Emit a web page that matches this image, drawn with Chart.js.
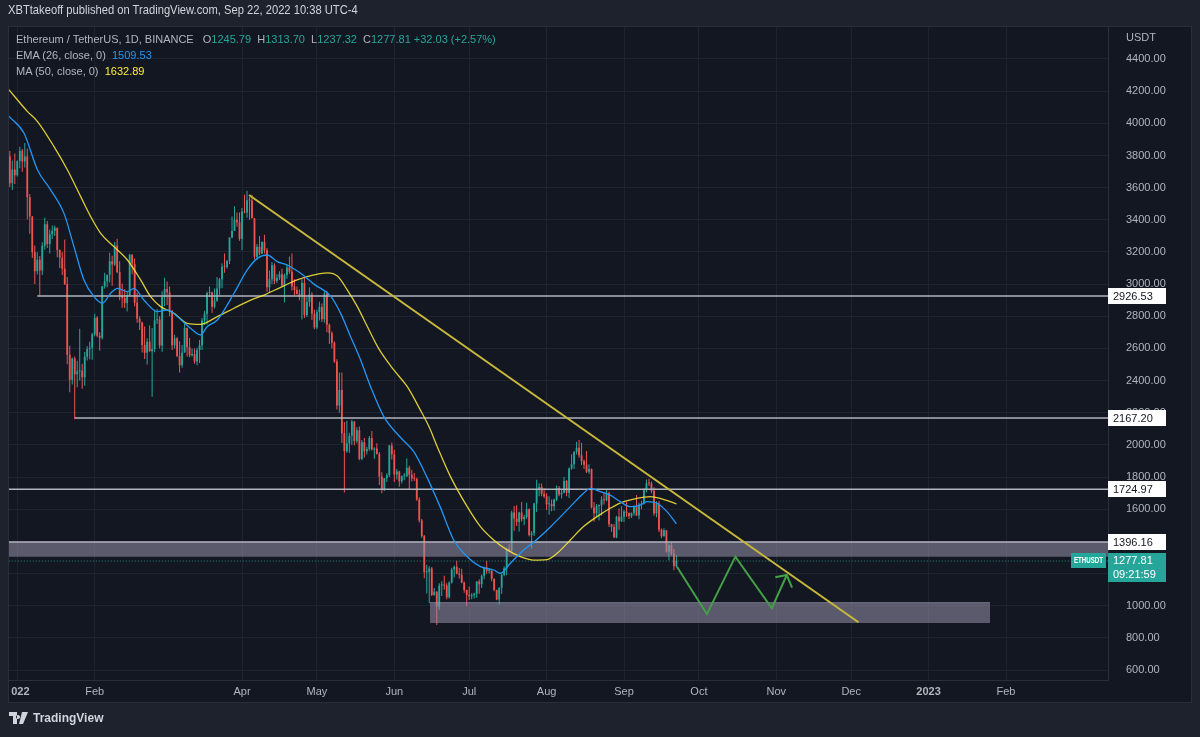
<!DOCTYPE html>
<html lang="en">
<head>
<meta charset="UTF-8">
<title>Ethereum / TetherUS, 1D, BINANCE</title>
<script src="https://cdn.jsdelivr.net/npm/chart.js"></script>
<style>
  body {
    margin: 0;
    width: 1200px;
    height: 737px;
    overflow: hidden;
    position: relative;
    background: #1e222d;
    font-family: "Liberation Sans", Arial, sans-serif;
  }
  #chart { position: absolute; left: 0; top: 0; }
  .hdr {
    position: absolute; left: 8px; top: 3px;
    font-size: 11.2px; color: #d1d4dc; transform: scaleY(1.12); transform-origin: left top;
  }
  .legend {
    position: absolute; left: 16px; top: 31px;
    font-size: 11px; line-height: 16px; color: #b2b5be;
  }
  .legend .up { color: #26a69a; }
  .legend .ema { color: #2196f3; }
  .legend .ma { color: #ffeb3b; }
  .legend .gap { display: inline-block; width: 6px; }
  .footer {
    position: absolute; left: 9px; top: 711px;
    font-size: 12px; color: #d1d4dc; font-weight: bold;
    display: flex; align-items: center; gap: 4px;
  }
</style>
</head>
<body>
<canvas id="chart" width="1200" height="737"></canvas>

<div class="hdr">XBTtakeoff published on TradingView.com, Sep 22, 2022 10:38 UTC-4</div>
<div class="legend">
  <div>Ethereum / TetherUS, 1D, BINANCE <span class="gap"></span>O<span class="up">1245.79</span>&nbsp; H<span class="up">1313.70</span>&nbsp; L<span class="up">1237.32</span>&nbsp; C<span class="up">1277.81</span> <span class="up">+32.03 (+2.57%)</span></div>
  <div>EMA (26, close, 0)&nbsp; <span class="ema">1509.53</span></div>
  <div>MA (50, close, 0)&nbsp; <span class="ma">1632.89</span></div>
</div>
<div class="footer">
  <svg width="20" height="12" viewBox="0 0 20 12"><path d="M0 0h8v12H4V4H0z M9 3a2 2 0 1 0 0.01 0z M13 0h6l-5 12h-4z" fill="#d1d4dc"/></svg>
  <span>TradingView</span>
</div>

<script>
// daily candles, first one is 2021-12-29 (day -3, day 0 = 2022-01-01)
const firstCandle = '2021-12-29';

const opens = [
  3795, 3628, 3713,
  3677, 3765, 3830, 3762, 3793, 3540, 3420, 3198, 3080, 3152, 3084, 3239, 3372, 3250, 3310, 3330, 3351, 3212, 3164, 3096, 3000, 2561, 2406, 2538, 2440, 2458, 2461, 2421, 2549, 2597, 2605,
  2688, 2791, 2679, 2666, 2986, 3018, 3058, 3142, 3122, 3240, 3076, 2927, 2914, 2882, 2930, 3183, 3126, 2884, 2785, 2762, 2622, 2573, 2642, 2582, 2597, 2776, 2780, 2619,
  2920, 2970, 2950, 2834, 2620, 2664, 2553, 2495, 2575, 2727, 2608, 2557, 2566, 2518, 2590, 2620, 2773, 2815, 2945, 2949, 2860, 2897, 2972, 3031, 3108, 3107, 3144, 3290, 3330, 3401, 3385,
  3282, 3452, 3445, 3522, 3520, 3410, 3170, 3233, 3190, 3262, 3210, 2981, 3030, 3117, 3020, 3040, 3062, 2991, 3057, 3103, 3077, 2985, 2964, 2938, 2923, 3008, 2808, 2889, 2935, 2816,
  2730, 2827, 2857, 2782, 2940, 2748, 2695, 2636, 2518, 2245, 2342, 2072, 1960, 2011, 2057, 2146, 2024, 2091, 1913, 2017, 1961, 1975, 2043, 1971, 1978, 1944, 1803, 1725, 1792, 1812, 1997,
  1941, 1816, 1834, 1774, 1805, 1805, 1858, 1815, 1791, 1789, 1661, 1530, 1434, 1208, 1210, 1232, 1066, 1087, 995, 1126, 1127, 1125, 1052, 1145, 1225, 1243, 1199, 1192, 1144, 1098,
  1068, 1059, 1067, 1074, 1151, 1134, 1187, 1238, 1216, 1217, 1168, 1098, 1038, 1112, 1192, 1233, 1354, 1339, 1580, 1543, 1521, 1579, 1537, 1552, 1600, 1439, 1450, 1635, 1724, 1738, 1696,
  1680, 1631, 1632, 1618, 1660, 1732, 1691, 1702, 1775, 1701, 1853, 1879, 1957, 1983, 1935, 1900, 1877, 1833, 1850, 1610, 1575, 1620, 1625, 1660, 1656, 1700, 1507, 1490, 1424, 1553, 1525,
  1553, 1586, 1577, 1556, 1577, 1616, 1561, 1630, 1635, 1718, 1763, 1760, 1715, 1574, 1636, 1472, 1432, 1470, 1335, 1378, 1324, 1245.79
];
const highs = [
  3828, 3768, 3813,
  3769, 3855, 3840, 3878, 3844, 3560, 3423, 3240, 3198, 3175, 3261, 3413, 3392, 3340, 3365, 3365, 3351, 3215, 3200, 3277, 3045, 2617, 2544, 2550, 2524, 2722, 2504, 2578, 2614, 2642, 2698,
  2816, 2800, 2700, 2989, 3071, 3058, 3195, 3176, 3263, 3282, 3142, 3004, 2969, 2953, 3189, 3185, 3160, 2946, 2800, 2766, 2737, 2663, 2742, 2727, 2841, 2845, 2800, 2955,
  3040, 3017, 2985, 2839, 2685, 2670, 2645, 2622, 2755, 2730, 2665, 2600, 2600, 2605, 2652, 2790, 2835, 2954, 2985, 2952, 2972, 3044, 3038, 3128, 3190, 3150, 3290, 3420, 3485, 3445, 3445,
  3473, 3555, 3580, 3541, 3555, 3410, 3250, 3300, 3267, 3307, 3225, 3085, 3138, 3130, 3062, 3080, 3095, 3066, 3125, 3172, 3191, 3030, 2985, 2966, 3030, 3040, 2920, 2980, 2949, 2840,
  2840, 2890, 2880, 2955, 2958, 2755, 2705, 2645, 2532, 2450, 2450, 2142, 2150, 2075, 2157, 2147, 2110, 2114, 2030, 2043, 1988, 2055, 2087, 1985, 2011, 1956, 1830, 1795, 1823, 2000, 2015,
  1970, 1850, 1840, 1810, 1825, 1915, 1870, 1845, 1825, 1796, 1675, 1540, 1440, 1255, 1245, 1240, 1110, 1090, 1140, 1152, 1186, 1140, 1150, 1236, 1250, 1280, 1235, 1230, 1150, 1100,
  1120, 1078, 1080, 1152, 1164, 1194, 1243, 1280, 1234, 1220, 1170, 1100, 1114, 1200, 1245, 1360, 1382, 1590, 1620, 1624, 1585, 1645, 1565, 1640, 1605, 1465, 1640, 1783, 1762, 1760, 1730,
  1700, 1680, 1660, 1665, 1748, 1745, 1725, 1800, 1782, 1860, 1942, 1960, 2020, 2030, 2013, 1910, 1962, 1880, 1853, 1645, 1633, 1630, 1680, 1707, 1719, 1710, 1510, 1508, 1560, 1605, 1618,
  1595, 1645, 1580, 1580, 1623, 1688, 1640, 1652, 1730, 1785, 1790, 1772, 1736, 1650, 1650, 1480, 1482, 1470, 1387, 1394, 1355, 1313.70
];
const lows = [
  3604, 3585, 3622,
  3670, 3720, 3697, 3725, 3402, 3313, 3162, 3000, 3060, 2928, 3056, 3215, 3224, 3190, 3281, 3300, 3167, 3101, 3056, 2995, 2501, 2327, 2375, 2159, 2359, 2400, 2350, 2368, 2525, 2532, 2530,
  2676, 2670, 2586, 2655, 2972, 2980, 3010, 2990, 3113, 3067, 2900, 2853, 2852, 2829, 2926, 3062, 2862, 2759, 2715, 2574, 2535, 2500, 2579, 2300, 2577, 2752, 2600, 2580,
  2862, 2870, 2800, 2590, 2600, 2545, 2450, 2480, 2575, 2550, 2545, 2550, 2505, 2495, 2510, 2590, 2745, 2750, 2920, 2820, 2848, 2890, 2930, 2975, 3070, 3095, 3125, 3286, 3330, 3356, 3270,
  3210, 3440, 3412, 3400, 3410, 3155, 3150, 3180, 3185, 3190, 2952, 2950, 3001, 3000, 3007, 3025, 2985, 2885, 3033, 3064, 2960, 2930, 2935, 2900, 2780, 2790, 2795, 2860, 2777, 2720,
  2720, 2774, 2765, 2760, 2700, 2628, 2600, 2510, 2220, 2200, 2012, 1704, 1952, 1952, 2000, 1998, 2010, 1905, 1905, 1922, 1940, 1963, 1966, 1914, 1940, 1750, 1700, 1713, 1770, 1800, 1910,
  1770, 1785, 1740, 1760, 1780, 1801, 1720, 1773, 1775, 1653, 1518, 1422, 1171, 1076, 1015, 1060, 1062, 880, 975, 1060, 1100, 1040, 1045, 1138, 1175, 1195, 1170, 1140, 1080, 998,
  1036, 1040, 1045, 1050, 1075, 1110, 1165, 1198, 1200, 1152, 1090, 1034, 1006, 1075, 1183, 1190, 1336, 1337, 1466, 1496, 1461, 1523, 1500, 1540, 1430, 1356, 1433, 1583, 1681, 1680, 1670,
  1595, 1565, 1587, 1590, 1650, 1680, 1666, 1700, 1680, 1670, 1846, 1850, 1940, 1920, 1875, 1850, 1826, 1820, 1605, 1522, 1553, 1530, 1560, 1630, 1650, 1490, 1460, 1422, 1420, 1472, 1520,
  1520, 1553, 1540, 1546, 1560, 1560, 1538, 1600, 1630, 1705, 1745, 1700, 1560, 1550, 1458, 1420, 1430, 1330, 1282, 1313, 1220, 1237.32
];
const closes = [
  3628, 3713, 3677,
  3765, 3830, 3762, 3793, 3540, 3420, 3198, 3080, 3152, 3084, 3239, 3372, 3250, 3310, 3330, 3351, 3212, 3164, 3096, 3000, 2561, 2406, 2538, 2440, 2458, 2461, 2421, 2549, 2597, 2605, 2688,
  2791, 2679, 2666, 2986, 3018, 3058, 3142, 3122, 3240, 3076, 2927, 2914, 2882, 2930, 3183, 3126, 2884, 2785, 2762, 2622, 2573, 2642, 2582, 2597, 2776, 2780, 2619, 2920,
  2970, 2950, 2834, 2620, 2664, 2553, 2495, 2575, 2727, 2608, 2557, 2566, 2518, 2590, 2620, 2773, 2815, 2945, 2949, 2860, 2897, 2972, 3031, 3108, 3107, 3144, 3290, 3330, 3401, 3385, 3282,
  3452, 3445, 3522, 3520, 3410, 3170, 3233, 3190, 3262, 3210, 2981, 3030, 3117, 3020, 3040, 3062, 2991, 3057, 3103, 3077, 2985, 2964, 2938, 2923, 3008, 2808, 2889, 2935, 2816, 2730,
  2827, 2857, 2782, 2940, 2748, 2695, 2636, 2518, 2245, 2342, 2072, 1960, 2011, 2057, 2146, 2024, 2091, 1913, 2017, 1961, 1975, 2043, 1971, 1978, 1944, 1803, 1725, 1792, 1812, 1997, 1941,
  1816, 1834, 1774, 1805, 1805, 1858, 1815, 1791, 1789, 1661, 1530, 1434, 1208, 1210, 1232, 1066, 1087, 995, 1126, 1127, 1125, 1052, 1145, 1225, 1243, 1199, 1192, 1144, 1098, 1068,
  1059, 1067, 1074, 1151, 1134, 1187, 1238, 1216, 1217, 1168, 1098, 1038, 1112, 1192, 1233, 1354, 1339, 1580, 1543, 1521, 1579, 1537, 1552, 1600, 1439, 1450, 1635, 1724, 1738, 1696, 1680,
  1631, 1632, 1618, 1660, 1732, 1691, 1702, 1775, 1701, 1853, 1879, 1957, 1983, 1935, 1900, 1877, 1833, 1850, 1610, 1575, 1620, 1625, 1660, 1656, 1700, 1507, 1490, 1424, 1553, 1525, 1553,
  1586, 1577, 1556, 1577, 1616, 1561, 1630, 1635, 1718, 1763, 1760, 1715, 1574, 1636, 1472, 1432, 1470, 1335, 1378, 1324, 1245.79, 1277.81
];

// indicator lines (day index, value)
const emaDays = [-3.4, 2.7, 8.1, 13.4, 18.7, 22.7, 26.7, 30.7, 34.1, 37.4, 40.1, 44.1, 46.7, 50.7, 56.1, 60.1, 64.1, 69.4, 73.4, 76.1, 80.1, 86.8, 92.1, 96.1, 100.1, 104.1, 108.1, 113.5, 118.8, 125.5, 129.5, 133.5, 137.5, 141.5, 146.8, 153.5, 158.8, 164.2, 169.5, 174.8, 180.2, 185.5, 190.8, 193.5, 197.5, 202.8, 206.8, 213.5, 221.5, 226.8, 229.5, 233.5, 237.5, 241.5, 245.5, 249.5, 252.2, 256.2, 260.2, 264];
const emaValues = [4045, 3938, 3710, 3585, 3440, 3233, 3025, 2922, 2881, 2943, 2974, 2953, 2974, 2901, 2829, 2839, 2798, 2725, 2684, 2736, 2777, 2943, 3088, 3160, 3181, 3140, 3119, 3067, 3000, 2925, 2818, 2673, 2528, 2362, 2176, 2046, 1958, 1795, 1610, 1409, 1305, 1243, 1222, 1202, 1264, 1347, 1395, 1490, 1616, 1699, 1730, 1709, 1688, 1647, 1616, 1626, 1647, 1637, 1585, 1509.53];
const maDays = [-3.4, 4.1, 8.1, 14.7, 20.1, 25.4, 29.4, 33.4, 38.7, 44.1, 49.4, 53.4, 57.4, 62.8, 68.1, 73.4, 80.1, 86.8, 93.5, 98.8, 105.5, 112.1, 118.8, 124.2, 128.2, 132.2, 136.2, 140.2, 144.7, 150.8, 156.2, 161.5, 165, 168.2, 173.5, 180.2, 185.5, 190.8, 196.2, 201.5, 206.8, 212.2, 216.2, 221.5, 226.8, 232.2, 237.5, 242.9, 248.2, 253.5, 257.5, 261.5, 264];
const maValues = [4210, 4073, 4011, 3855, 3710, 3544, 3420, 3316, 3233, 3150, 3026, 2922, 2860, 2818, 2756, 2750, 2798, 2850, 2901, 2932, 2980, 3026, 3057, 3070, 3050, 2963, 2860, 2736, 2600, 2466, 2362, 2215, 2110, 1989, 1803, 1616, 1492, 1409, 1347, 1305, 1284, 1287, 1326, 1409, 1492, 1554, 1606, 1647, 1668, 1678, 1668, 1647, 1632.89];

// drawings
const trendDays = [92.8, 336.9];
const trendValues = [3554, 897];
const zigDays = [264.2, 276.2, 287.6, 302.2, 308.2];
const zigValues = [1242, 948, 1305, 984, 1191];
const arrowDays = [303.6, 308.2, 310.3];
const arrowValues = [1177, 1191, 1112];
const levelValues = [2926.53, 2167.20, 1724.97];
const levelStartDays = [8, 23, -3.4];
const upperZone = [1396.16, 1305];   // top, bottom, full width
const lowerZone = [1019, 892];       // top, bottom
const lowerZoneDays = [165.3, 389.6];
const lastClose = 1277.81;
const axisLabels = [2926.53, 2167.20, 1724.97, 1396.16];

// axes
const monthDays = [0, 31, 90, 120, 151, 181, 212, 243, 273, 304, 334, 365, 396];
const monthLabels = ['2022', 'Feb', 'Apr', 'May', 'Jun', 'Jul', 'Aug', 'Sep', 'Oct', 'Nov', 'Dec', '2023', 'Feb'];
const priceTicks = [600, 800, 1000, 1200, 1400, 1600, 1800, 2000, 2200, 2400, 2600, 2800, 3000, 3200, 3400, 3600, 3800, 4000, 4200, 4400];
const xMin = -3.4, xMax = 436.85;
const yMin = 538, yMax = 4599;

const UP = '#26a69a', DOWN = '#ef5350';

const day0 = (Date.parse(firstCandle) - Date.parse('2022-01-01')) / 86400000;
const bodies = [], wicks = [], candleColors = [];
for (let i = 0; i < closes.length; i++) {
  const d = day0 + i;
  bodies.push({ x: d, y: [opens[i], closes[i]] });
  wicks.push({ x: d, y: [lows[i], highs[i]] });
  candleColors.push(closes[i] >= opens[i] ? UP : DOWN);
}
const pts = (xs, ys) => xs.map((x, i) => ({ x: x, y: ys[i] }));

function lineSet(data, color, width, extra) {
  return Object.assign({
    type: 'line', data: data, borderColor: color, borderWidth: width,
    pointRadius: 0, fill: false, tension: 0, order: 0
  }, extra || {});
}

const datasets = [
  { type: 'bar', data: wicks, backgroundColor: candleColors, grouped: false, maxBarThickness: 1, inflateAmount: 0, order: 4 },
  { type: 'bar', data: bodies, backgroundColor: candleColors, grouped: false, maxBarThickness: 2, minBarLength: 1, inflateAmount: 0, order: 3 },
  lineSet(pts([xMin, xMax], [upperZone[0], upperZone[0]]), '#b2b5be', 1.5,
    { fill: { value: upperZone[1] }, backgroundColor: 'rgba(149,145,170,0.55)', order: 2 }),
  lineSet(pts(lowerZoneDays, [lowerZone[0], lowerZone[0]]), 'rgba(149,145,170,0.7)', 1,
    { fill: { value: lowerZone[1] }, backgroundColor: 'rgba(149,145,170,0.55)', order: 2 }),
  lineSet(pts([xMin, xMax], [lastClose, lastClose]), 'rgba(38,166,154,0.8)', 1, { borderDash: [1, 2], order: 1 }),
  lineSet(pts(emaDays, emaValues), '#2196f3', 1.3, { cubicInterpolationMode: 'monotone' }),
  lineSet(pts(maDays, maValues), 'rgba(255,235,59,0.85)', 1.3, { cubicInterpolationMode: 'monotone' }),
  lineSet(pts(trendDays, trendValues), '#c9b93b', 2),
  lineSet(pts(zigDays, zigValues), '#43a047', 2),
  lineSet(pts(arrowDays, arrowValues), '#43a047', 2)
];
levelValues.forEach((v, i) => {
  datasets.push(lineSet(pts([levelStartDays[i], xMax], [v, v]), '#b2b5be', 1.5, { order: 1 }));
});

// pane background, price axis badges
const panePlugin = {
  id: 'pane',
  beforeDraw(chart) {
    const c = chart.ctx;
    c.save();
    c.fillStyle = '#1e222d';
    c.fillRect(0, 0, chart.width, chart.height);
    c.fillStyle = '#131722';
    c.fillRect(8, 26, 1184, 677);
    c.restore();
  },
  afterDraw(chart) {
    const c = chart.ctx, y = chart.scales.y, area = chart.chartArea;
    c.save();
    // the first date label runs off the pane; hide what falls outside
    c.fillStyle = '#1e222d';
    c.fillRect(0, area.bottom + 1, 8, 30);
    c.fillStyle = '#131722';
    c.fillRect(9, area.bottom + 1, 2, 20);
    c.strokeStyle = '#2a2e39';
    c.lineWidth = 1;
    c.strokeRect(8.5, 26.5, 1183, 676);

    c.font = '11px "Liberation Sans", Arial, sans-serif';
    c.textBaseline = 'middle';
    c.textAlign = 'left';
    c.fillStyle = '#b2b5be';
    c.fillText('USDT', area.right + 18, 38);

    axisLabels.forEach(v => {
      const py = Math.round(y.getPixelForValue(v));
      c.fillStyle = '#ffffff';
      c.fillRect(area.right, py - 8, 58, 16);
      c.fillStyle = '#131722';
      c.fillText(v.toFixed(2), area.right + 5, py + 1);
    });

    const pl = Math.round(y.getPixelForValue(lastClose));
    c.fillStyle = UP;
    c.fillRect(area.right, pl - 8, 58, 29);
    c.fillRect(area.right - 37, pl - 8, 35, 15);
    c.fillStyle = '#ffffff';
    c.fillText(lastClose.toFixed(2), area.right + 5, pl);
    c.fillText('09:21:59', area.right + 5, pl + 14);
    c.font = 'bold 9px "Liberation Sans", Arial, sans-serif';
    c.fillText('ETHUSDT', area.right - 34, pl, 29);
    c.restore();
  }
};

Chart.defaults.font.family = '"Liberation Sans", Arial, sans-serif';
Chart.defaults.font.size = 11;
Chart.defaults.color = '#b2b5be';

new Chart(document.getElementById('chart'), {
  type: 'bar',
  data: { datasets: datasets },
  options: {
    responsive: false,
    animation: false,
    layout: { padding: { left: 8, right: 8, top: 27, bottom: 34 } },
    plugins: { legend: { display: false }, tooltip: { enabled: false } },
    scales: {
      x: {
        type: 'linear', min: xMin, max: xMax, offset: false,
        grid: { color: '#1f2330', drawTicks: false, offset: false },
        border: { display: true, color: '#2a2e39' },
        afterBuildTicks: s => { s.ticks = monthDays.map(v => ({ value: v })); },
        afterFit: s => { s.height = 23; },
        ticks: {
          autoSkip: false, maxRotation: 0, padding: 5, color: '#b2b5be',
          font: ctx => ({ size: 11, weight: /^\d+$/.test(monthLabels[ctx.index] || '') ? 'bold' : 'normal' }),
          callback: v => monthLabels[monthDays.indexOf(v)]
        }
      },
      y: {
        position: 'right', min: yMin, max: yMax, beginAtZero: false,
        grid: { color: '#1f2330', drawTicks: false },
        border: { display: true, color: '#2a2e39' },
        afterBuildTicks: s => { s.ticks = priceTicks.map(v => ({ value: v })); },
        afterFit: s => { s.width = 84; },
        ticks: { padding: 18, color: '#b2b5be', callback: v => v.toFixed(2) }
      }
    }
  },
  plugins: [panePlugin]
});
</script>
</body>
</html>
